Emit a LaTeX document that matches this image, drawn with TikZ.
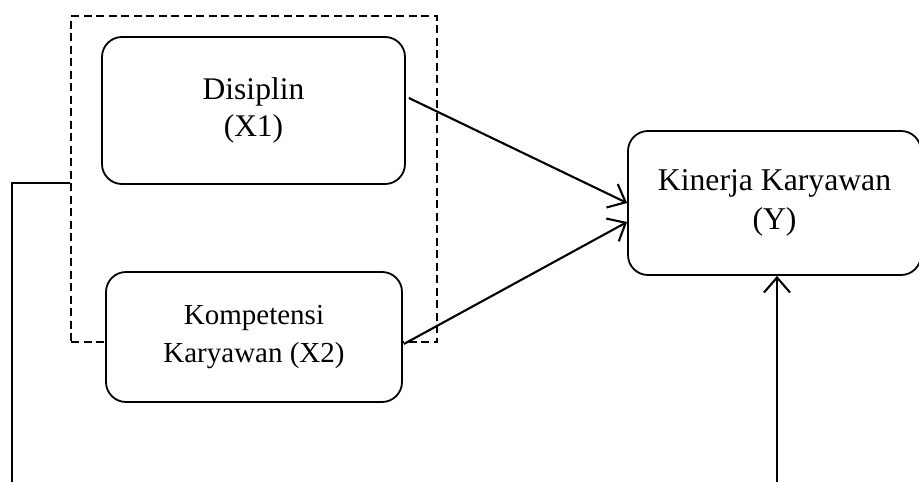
\documentclass[tikz,border=0pt]{standalone}
\usepackage{fontspec}
\setmainfont{Liberation Serif}
\usetikzlibrary{arrows.meta}
\begin{document}
\begin{tikzpicture}[x=1pt,y=1pt,
  box/.style={draw, line width=1.8pt, rounded corners=20pt, align=center, inner sep=0pt},
  link/.style={line width=2.1pt, -{Straight Barb[length=15pt,width=26pt,line width=2.1pt]}},
  wire/.style={line width=1.9pt},
  grpbox/.style={draw, line width=1.4pt, dash pattern=on 8pt off 4.5pt, inner sep=0pt}]
\useasboundingbox (0,0) rectangle (919,-482);
\node[grpbox, minimum width=366pt, minimum height=326pt] (grp) at (254,-179) {};
\node[box, minimum width=303pt, minimum height=147pt, font=\fontsize{31.5}{37}\selectfont] (dis) at (253.5,-110.5) {Disiplin\\(X1)};
\node[box, fill=white, minimum width=296pt, minimum height=130pt, font=\fontsize{29}{38}\selectfont] (kom) at (254,-337) {Kompetensi\\Karyawan (X2)};
\node[box, minimum width=293pt, minimum height=144pt, font=\fontsize{31.7}{39}\selectfont] (kin) at (774.5,-203) {Kinerja Karyawan\\(Y)};
\draw[link] ([xshift=3pt,yshift=12.5pt]dis.east) -- (kin.west);
\draw[link] ([xshift=1pt,yshift=-7pt]kom.east) -- ([yshift=-19pt]kin.west);
\coordinate (bl) at (12,-482);
\coordinate (br) at (777,-482);
\draw[wire] ([yshift=-4pt]grp.west) -| (bl);
\draw[link] (br) -- (br |- kin.south);
\end{tikzpicture}
\end{document}
